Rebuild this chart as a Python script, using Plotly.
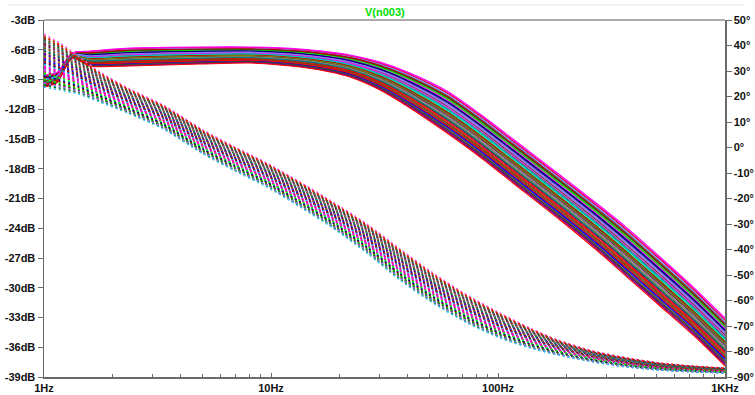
import plotly.graph_objects as go

# ---------------- data ----------------
# Magnitude band (solid traces): upper and lower envelope of the Monte Carlo runs
mag_freq = [1.0, 1.141, 1.328, 1.594, 2.393, 4.866, 8.08, 13.42, 18.20, 22.28,
            30.21, 40.96, 59.62, 83.30, 116.4, 187.6, 281.4, 370.1, 517.3,
            722.8, 1000]
mag_top = [-8.55, -8.30, -6.33, -6.13, -5.82, -5.72, -5.72, -5.92, -6.23, -6.53,
           -7.24, -8.34, -10.16, -12.48, -15.00, -18.63, -21.76, -23.97, -26.90,
           -29.92, -33.05]
mag_bot = [-9.76, -9.30, -6.83, -7.64, -7.64, -7.44, -7.34, -7.74, -8.24, -8.75,
           -10.06, -11.87, -14.40, -16.82, -19.44, -23.17, -26.50, -28.92, -31.84,
           -34.76, -37.89]

# Phase band (dotted traces), degrees on the right axis
ph_freq = [1.0, 1.176, 1.412, 1.765, 2.393, 3.344, 5.016, 6.94, 9.60, 13.42,
           18.76, 26.48, 37.01, 51.71, 73.0, 102.0, 138.4, 183.8, 262.0, 370.1,
           517.3, 722.8, 1000]
ph_top = [44.5, 41.0, 35.9, 29.6, 22.9, 16.7, 6.9, 0.2, -6.1, -13.5, -21.4,
          -30.0, -39.8, -49.2, -57.8, -64.9, -70.8, -75.5, -79.8, -82.5, -84.5,
          -85.7, -86.5]
ph_bot = [23.7, 22.5, 21.0, 17.8, 13.1, 7.3, -2.5, -9.2, -15.5, -23.3, -31.6,
          -41.4, -52.0, -61.0, -68.8, -74.7, -78.6, -81.4, -84.1, -86.1, -87.3,
          -88.0, -88.4]

# Relative position of each stepped run inside the band (0 = bottom edge, 1 = top edge)
run_pos = [0.00, 0.52, 0.31, 0.77, 0.12, 0.64, 0.43, 0.90, 0.21, 0.58,
           0.36, 0.83, 0.07, 0.70, 0.48, 0.95, 0.26, 0.61, 0.16, 0.79,
           0.40, 0.87, 0.03, 0.55, 0.33, 0.73, 0.10, 0.67, 0.45, 0.92,
           0.19, 0.50, 0.29, 0.81, 0.14, 0.62, 0.38, 0.85, 0.05, 0.57,
           0.24, 0.75, 0.46, 0.97, 0.09, 0.68, 0.34, 0.88, 0.18, 1.00]
run_pos_phase = run_pos[17:] + run_pos[:17]

mag_ticks = [-39, -36, -33, -30, -27, -24, -21, -18, -15, -12, -9, -6, -3]
mag_ticktext = ["-39dB", "-36dB", "-33dB", "-30dB", "-27dB", "-24dB", "-21dB",
                "-18dB", "-15dB", "-12dB", "-9dB", "-6dB", "-3dB"]
ph_ticks = [-90, -80, -70, -60, -50, -40, -30, -20, -10, 0, 10, 20, 30, 40, 50]
ph_ticktext = ["-90°", "-80°", "-70°", "-60°", "-50°", "-40°", "-30°", "-20°",
               "-10°", "0°", "10°", "20°", "30°", "40°", "50°"]
freq_ticks = [1, 10, 100, 1000]
freq_ticktext = ["1Hz", "10Hz", "100Hz", "1KHz"]
freq_minor = [2, 3, 4, 5, 6, 7, 8, 9, 20, 30, 40, 50, 60, 70, 80, 90,
              200, 300, 400, 500, 600, 700, 800, 900]

title_text = "V(n003)"

# ---------------- styling ----------------
palette = ["#ff0000", "#00ff00", "#0000ff", "#ff00ff", "#808080", "#008000",
           "#800080", "#00c0c0", "#804000", "#000080", "#808000", "#ff0080",
           "#404040", "#8080ff", "#008080", "#c00000"]
axis_col = "#6a6a6a"
label_font = dict(family="Liberation Sans, Arial, sans-serif", size=11,
                  color="#111111", weight="bold")

fig = go.Figure()

def blend(lo, hi, t):
    return [a + t * (b - a) for a, b in zip(lo, hi)]

# phase (dotted) first, then magnitude on top
for i, t in enumerate(run_pos_phase):
    col = palette[i % len(palette)]
    if t == 0.0:
        col = "#40c0ff"
    if t == 1.0:
        col = "#ff60ff"
    fig.add_trace(go.Scatter(
        x=ph_freq, y=blend(ph_bot, ph_top, t), yaxis="y2", mode="lines",
        line=dict(color=col, width=1.5, dash="2px,3px", shape="spline",
                  smoothing=0.7),
        hoverinfo="skip", showlegend=False))

order = sorted(range(len(run_pos)), key=lambda k: (run_pos[k] in (0.0, 1.0), k))
for i in order:
    t = run_pos[i]
    col = palette[i % len(palette)]
    if t == 0.0:
        col = "#ff0000"
    if t == 1.0:
        col = "#ff00ff"
    fig.add_trace(go.Scatter(
        x=mag_freq, y=blend(mag_bot, mag_top, t), yaxis="y", mode="lines",
        line=dict(color=col, width=1.1, shape="spline", smoothing=0.7),
        hoverinfo="skip", showlegend=False))

fig.update_layout(
    width=755, height=395,
    margin=dict(l=44, r=30, t=20, b=18, autoexpand=False),
    paper_bgcolor="white", plot_bgcolor="white",
    showlegend=False,
    xaxis=dict(type="log", range=[0, 3], tickmode="array", tickvals=freq_ticks,
               ticktext=freq_ticktext, ticks="inside", ticklen=4,
               tickcolor=axis_col, showline=True, linecolor=axis_col,
               linewidth=1.5, showgrid=False, zeroline=False,
               tickfont=label_font, automargin=False,
               minor=dict(tickmode="array", tickvals=freq_minor, ticks="inside",
                          ticklen=3, tickcolor=axis_col, showgrid=False)),
    yaxis=dict(range=[-39, -3], tickmode="array", tickvals=mag_ticks,
               ticktext=mag_ticktext, ticks="outside", ticklen=5,
               tickcolor=axis_col, showline=True, linecolor=axis_col,
               linewidth=1.5, showgrid=False, zeroline=False,
               tickfont=label_font, automargin=False),
    yaxis2=dict(range=[-90, 50], overlaying="y", side="right", tickmode="array",
                tickvals=ph_ticks, ticktext=ph_ticktext, ticks="outside",
                ticklen=5, tickcolor=axis_col, showline=True,
                linecolor=axis_col, linewidth=1.5, showgrid=False,
                zeroline=False, tickfont=label_font, automargin=False),
    shapes=[
        dict(type="line", xref="paper", yref="paper", x0=0, x1=1, y0=1, y1=1,
             line=dict(color="#909090", width=1.5)),
        dict(type="line", xref="paper", yref="paper", x0=-0.053, x1=1.029,
             y0=1.042, y1=1.042, line=dict(color="#e4e4e4", width=1)),
    ],
    annotations=[
        dict(text=title_text, xref="paper", yref="paper", x=0.5007, y=1.022,
             showarrow=False, xanchor="center", yanchor="middle",
             font=dict(family="Liberation Sans, Arial, sans-serif", size=11,
                       color="#00dd00", weight="bold")),
    ],
)

fig.write_html(
    "out.html",
    config={"displayModeBar": False, "staticPlot": True},
    post_script="document.body.style.margin='0';document.body.style.padding='0';"
                "document.body.style.overflow='hidden';",
)
